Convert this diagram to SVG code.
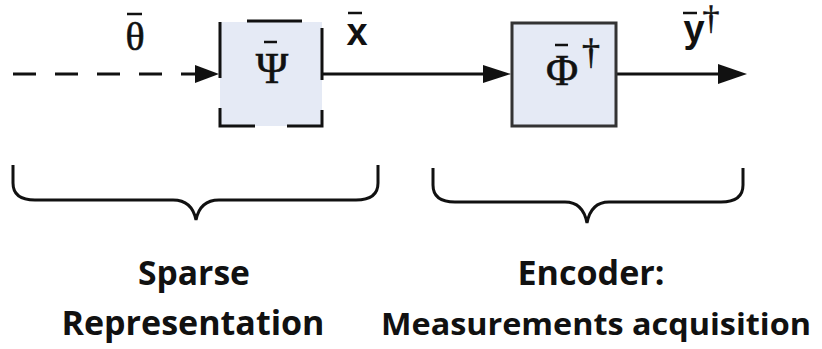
<svg xmlns="http://www.w3.org/2000/svg" width="822" height="349" viewBox="0 0 822 349">
<style>
.ln{stroke:#111;stroke-width:3;fill:none}
.bar{stroke:#111;stroke-width:2.5}
.ah{fill:#111}
.sym{font-family:"Liberation Serif",serif;fill:#111;stroke:#111;stroke-width:0.6}
.var{font-family:"Liberation Sans",Arial,sans-serif;font-weight:700;fill:#111}
.lbl{font-family:"Open Sans","Liberation Sans",sans-serif;font-weight:700;font-size:34px;fill:#111;text-anchor:middle}
.box{fill:#e5eaf5}
</style>
<rect width="822" height="349" fill="#fff"/>
<g id="connectors">
<path class="ln" d="M13,74 H196" stroke-dasharray="23 19"/>
<polygon class="ah" points="195,65 219,74 195,83"/>
<path class="ln" d="M322,74 H486"/>
<polygon class="ah" points="483,65 511,74 483,83"/>
<path class="ln" d="M617,74 H720"/>
<polygon class="ah" points="718,64 747,74 718,84"/>
</g>
<g id="theta-label">
<text class="sym" x="135" y="50" font-size="40" text-anchor="middle" stroke-width="1">θ</text>
<line class="bar" x1="127" y1="14" x2="142" y2="14"/>
</g>
<g id="psi">
<rect class="box" x="220" y="22" width="102" height="104"/>
<path class="ln" d="M220,22 V78 M247,21 H302 M322,28 V80 M220,108 V126 H255 M287,126 H322 V110"/>
<text class="sym" x="272" y="83" font-size="44" text-anchor="middle">Ψ</text>
<line class="bar" x1="264" y1="42" x2="277" y2="42"/>
</g>
<g id="x-label">
<text class="var" x="357" y="45" font-size="38" text-anchor="middle">x</text>
<line class="bar" x1="348" y1="13" x2="362" y2="13"/>
</g>
<g id="phi">
<rect class="box" x="512" y="23" width="104" height="103" stroke="#333" stroke-width="3"/>
<text class="sym" x="562" y="85" font-size="44" text-anchor="middle">Φ</text>
<line class="bar" x1="555" y1="45" x2="568" y2="45"/>
<text class="sym" x="591" y="64" font-size="36" text-anchor="middle" stroke-width="1.2">†</text>
</g>
<g id="y-label">
<text class="var" x="694" y="42" font-size="38" text-anchor="middle">y</text>
<line class="bar" x1="683" y1="13" x2="697" y2="13"/>
<text class="sym" x="711" y="29" font-size="34" text-anchor="middle" stroke-width="1.2">†</text>
</g>
<g id="brace-left">
<path class="ln" d="M13,165 V183 Q13,200 35,200 H173 Q192,200 196,220 Q200,200 219,200 H356 Q378,200 378,183 V165"/>
<text class="lbl" x="194" y="285" textLength="112" lengthAdjust="spacingAndGlyphs">Sparse</text>
<text class="lbl" x="193" y="335" textLength="263" lengthAdjust="spacingAndGlyphs">Representation</text>
</g>
<g id="brace-right">
<path class="ln" d="M433,168 V185 Q433,202 455,202 H565 Q583,202 587,223 Q591,202 609,202 H721 Q743,202 743,185 V168"/>
<text class="lbl" x="591" y="285" textLength="147" lengthAdjust="spacingAndGlyphs">Encoder:</text>
<text class="lbl" x="596" y="335" style="font-size:31px" textLength="430" lengthAdjust="spacingAndGlyphs">Measurements acquisition</text>
</g>
</svg>
